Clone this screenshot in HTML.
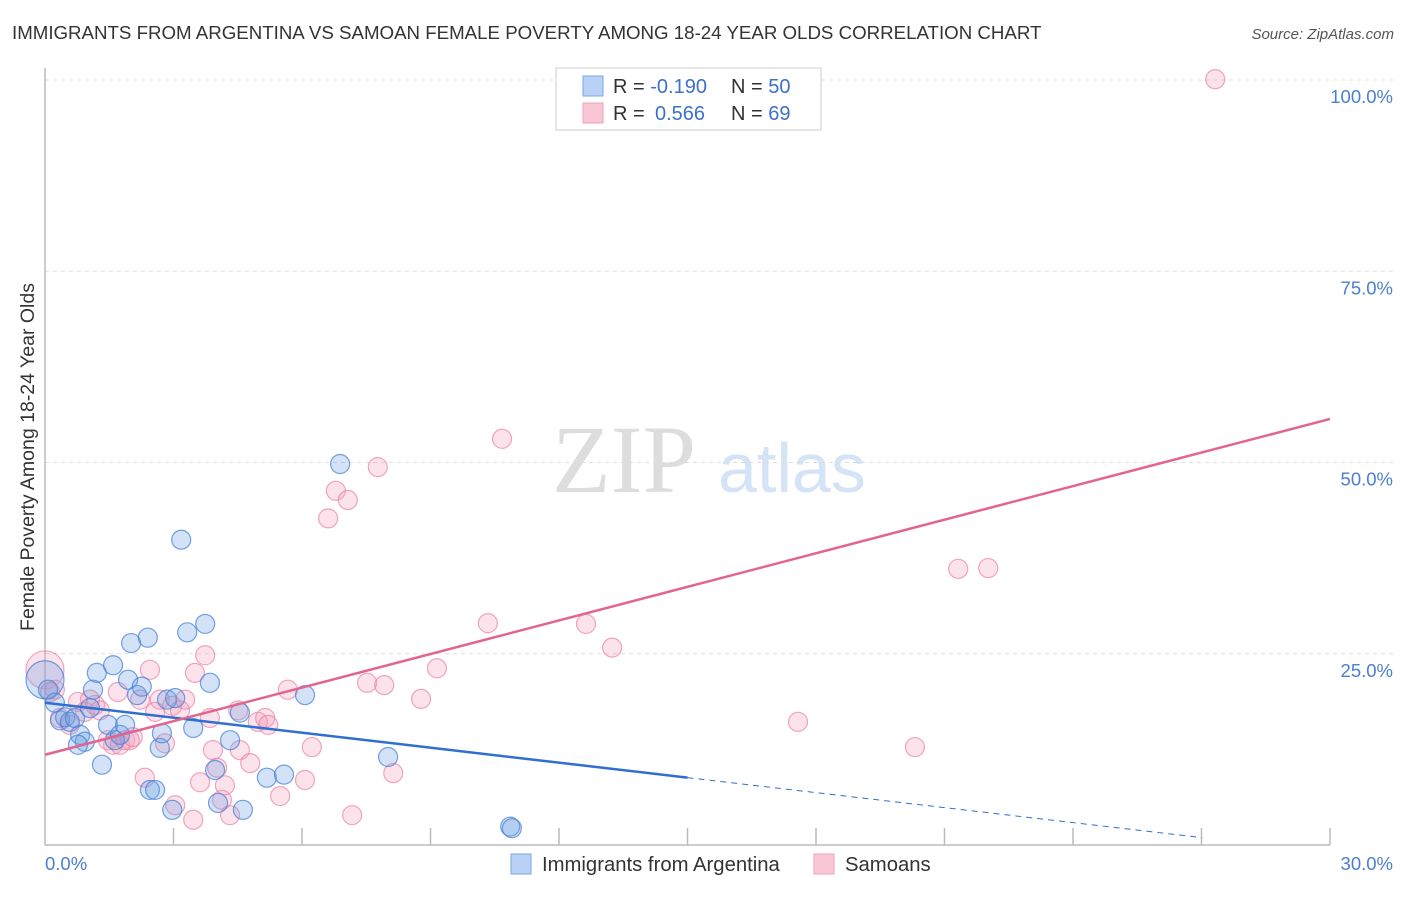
<!DOCTYPE html>
<html><head><meta charset="utf-8"><style>
body{margin:0;background:#fff;font-family:"Liberation Sans",sans-serif;}
</style></head><body>
<svg width="1406" height="892" xmlns="http://www.w3.org/2000/svg" id="c">
<text x="12" y="39" font-size="18.7" fill="#333">IMMIGRANTS FROM ARGENTINA VS SAMOAN FEMALE POVERTY AMONG 18-24 YEAR OLDS CORRELATION CHART</text>
<text x="1394" y="39" font-size="15" fill="#555" font-style="italic" text-anchor="end">Source: ZipAtlas.com</text>
<text x="34" y="457" font-size="19.5" fill="#333" text-anchor="middle" transform="rotate(-90 34 457)">Female Poverty Among 18-24 Year Olds</text>
<text x="552" y="492" font-size="96" fill="#ddd" font-family="Liberation Serif">ZIP</text>
<text x="718" y="492" font-size="70" fill="#d4e3f5">atlas</text>
<g id="grid"></g><g id="marks"></g>
<g>
<rect x="556" y="68" width="265" height="62" fill="#fff" stroke="#ccc"/>
<rect x="583" y="76" width="20" height="20" fill="#b8d1f5" stroke="#7aa6e6"/>
<rect x="583" y="103" width="20" height="20" fill="#f9c6d5" stroke="#eea0b8"/>
<text x="613" y="93" font-size="20" fill="#333">R = <tspan fill="#3b72c8">-0.190</tspan><tspan x="731">N = </tspan><tspan fill="#3b72c8">50</tspan></text>
<text x="613" y="120" font-size="20" fill="#333">R = <tspan x="655" fill="#3b72c8">0.566</tspan><tspan x="731">N = </tspan><tspan fill="#3b72c8">69</tspan></text>
</g>
<g>
<rect x="511" y="854" width="20" height="20" fill="#b8d1f5" stroke="#7aa6e6"/>
<text x="542" y="871" font-size="20.3" fill="#333">Immigrants from Argentina</text>
<rect x="814" y="854" width="20" height="20" fill="#f9c6d5" stroke="#eea0b8"/>
<text x="845" y="871" font-size="20.3" fill="#333">Samoans</text>
</g>
</svg>
<script>
const blueX=[0,0.07,0.23,0.35,0.47,0.58,0.70,0.82,0.93,0.77,1.05,1.12,1.21,1.33,1.47,1.59,1.63,1.75,1.87,1.94,2.01,2.15,2.26,2.40,2.45,2.57,2.68,2.73,2.85,2.97,3.04,3.18,3.32,3.46,3.74,3.85,3.97,4.04,4.32,4.55,4.62,5.18,5.58,6.07,6.89,8.01,10.86,10.90];
const blueY=[21.6,20.3,18.6,16.3,16.7,16.1,16.6,14.4,13.5,13.1,17.9,20.3,22.5,10.5,15.7,23.5,13.7,14.4,15.7,21.6,26.4,19.6,20.7,27.1,7.2,7.2,12.7,14.6,19.0,4.6,19.2,39.9,27.8,15.3,28.9,21.2,9.8,5.5,13.7,17.3,4.6,8.8,9.2,19.6,49.8,11.5,2.4,2.2];
const pinkX=[0,0.12,0.23,0.35,0.58,0.77,0.93,1.05,1.17,1.28,1.47,1.59,1.70,1.75,1.87,1.98,2.05,2.22,2.33,2.45,2.57,2.68,2.80,2.97,3.04,3.15,3.27,3.46,3.50,3.62,3.74,3.85,3.92,4.02,4.13,4.20,4.32,4.51,4.55,4.79,4.97,5.14,5.21,5.49,5.67,6.07,6.23,6.61,6.79,7.07,7.17,7.52,7.77,7.92,8.13,8.78,9.15,10.34,10.67,12.63,13.24,17.58,20.31,21.32,22.02,27.32];
const pinkY=[22.9,20.0,20.3,16.6,15.7,18.7,17.4,19.0,18.3,17.6,13.7,13.1,20.0,13.1,13.7,13.7,14.1,19.0,8.8,22.9,17.4,19.0,13.3,18.2,5.2,17.6,19.0,3.3,22.5,8.2,24.8,16.6,12.4,10.1,5.9,7.8,3.9,17.6,12.4,10.7,16.1,16.6,15.7,6.4,20.3,8.5,12.8,42.7,46.3,45.1,3.9,21.2,49.4,20.9,9.4,19.1,23.1,29.0,53.1,28.9,25.8,16.1,12.8,36.1,36.2,100.1];
const blueTrend=[18.6,-0.653]; // intercept, slope
const pinkTrend=[11.8,1.463];
const yTicks=[25,50,75,100];
const xTickLabels=["0.0%","30.0%"];
const NS="http://www.w3.org/2000/svg";
const X=v=>45+v/30*1285, Y=v=>845-v/100*765;
function mk(t,a,p){const e=document.createElementNS(NS,t);for(const k in a)e.setAttribute(k,a[k]);p.appendChild(e);return e;}
const g=document.getElementById('grid'),m=document.getElementById('marks');
yTicks.forEach(t=>{
 const l=mk('line',{x1:45,x2:1394,y1:Y(t),y2:Y(t),stroke:'#ddd','stroke-dasharray':'4,4'},g);
 
 
 const tx=mk('text',{x:1393,y:Y(t)+23,'font-size':18.5,fill:'#4a7fd0','text-anchor':'end'},g);tx.textContent=t.toFixed(1)+'%';
 
 
});
const ax=mk('line',{x1:45,x2:45,y1:68,y2:845,stroke:'#bbb','stroke-width':1.5},g);


const bx=mk('line',{x1:45,x2:1330,y1:845,y2:845,stroke:'#bbb','stroke-width':1.5},g);


for(let i=1;i<=10;i++){const t=mk('line',{x1:X(i*3),x2:X(i*3),y1:828,y2:845,stroke:'#bbb','stroke-width':1.5},g);
 
 }
[[0,'start',45],[30,'end',1393]].forEach((d,i)=>{const t=mk('text',{x:d[2],y:870,'font-size':18.5,fill:'#4a7fd0','text-anchor':d[1]},g);t.textContent=xTickLabels[i];
 
 });
function pts(xs,ys,fill,stroke,name){xs.forEach((x,i)=>{const c=mk('circle',{cx:X(x),cy:Y(ys[i]),r:i===0?19:9.5,fill:fill,stroke:stroke,'stroke-width':1.2},m);
 
 });}
pts(pinkX,pinkY,'rgba(244,160,188,0.3)','rgba(232,130,165,0.7)','samoan-point');
pts(blueX,blueY,'rgba(110,160,230,0.3)','rgba(70,130,215,0.75)','argentina-point');
const bl=mk('line',{x1:X(0),y1:Y(blueTrend[0]),x2:X(15),y2:Y(blueTrend[0]+blueTrend[1]*15),stroke:'#2f6fd0','stroke-width':2.5},m);


const bd=mk('line',{x1:X(15),y1:Y(blueTrend[0]+blueTrend[1]*15),x2:X(27),y2:Y(blueTrend[0]+blueTrend[1]*27),stroke:'#2f6fd0','stroke-width':1,'stroke-dasharray':'6,5'},m);


const pl=mk('line',{x1:X(0),y1:Y(pinkTrend[0]),x2:X(30),y2:Y(pinkTrend[0]+pinkTrend[1]*30),stroke:'#e2648f','stroke-width':2.5},m);


</script>
</body></html>
